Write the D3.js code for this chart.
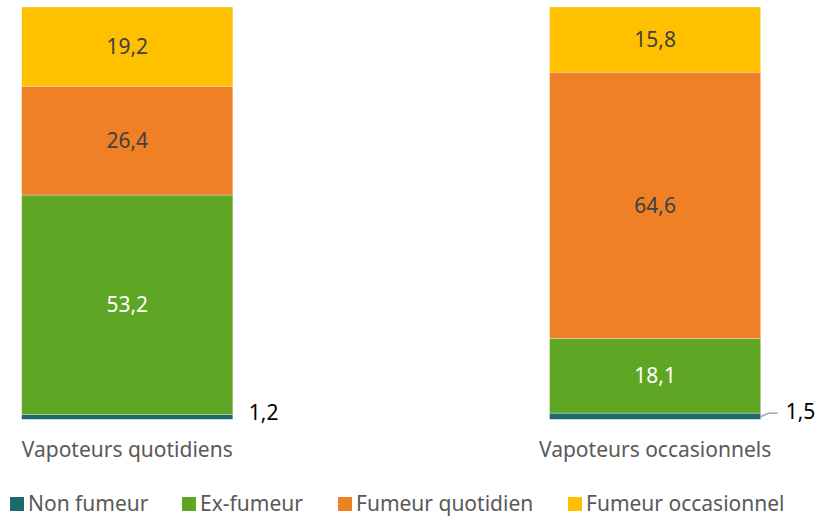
<!DOCTYPE html>
<html><head><meta charset="utf-8">
<script src="https://cdn.jsdelivr.net/npm/d3@7"></script>
<style>body{margin:0;background:#fff}svg{display:block}text{font-family:"Noto Sans",sans-serif}</style>
</head><body><svg id="c" width="819" height="518"></svg>
<script>
const categories = ["Vapoteurs quotidiens", "Vapoteurs occasionnels"];
const seriesNames = ["Non fumeur", "Ex-fumeur", "Fumeur quotidien", "Fumeur occasionnel"];
const nonFumeur = [1.2, 1.5];
const exFumeur = [53.2, 18.1];
const fumeurQuotidien = [26.4, 64.6];
const fumeurOccasionnel = [19.2, 15.8];
const colors = ["#1B6B6E", "#5EA624", "#F08026", "#FFC000"];
const labelColors = ["#000", "#fff", "#404040", "#404040"];

const svg = d3.select("#c");
const seriesValues = [nonFumeur, exFumeur, fumeurQuotidien, fumeurOccasionnel];
const rows = categories.map((c, i) => {
  const r = {cat: c};
  seriesNames.forEach((s, j) => r[s] = seriesValues[j][i]);
  return r;
});
const stack = d3.stack().keys(seriesNames)(rows);

const x = d3.scaleBand().domain(categories).range([21.7, 760.7]).paddingInner(0.6).paddingOuter(0);
const y = d3.scaleLinear().domain([0, 100]).range([419.3, 7]);

const FS = 21;
const g = svg.append("g");
stack.forEach((layer, j) => {
  g.selectAll(null).data(layer).join("rect")
    .attr("x", d => x(d.data.cat))
    .attr("width", x.bandwidth())
    .attr("y", d => y(d[1]))
    .attr("height", d => y(d[0]) - y(d[1]))
    .attr("fill", colors[j])
    .attr("stroke", "#fff").attr("stroke-opacity", 0.5).attr("stroke-width", 0.6);
});

const fmt = v => String(v).replace(".", ",");
stack.forEach((layer, j) => {
  if (j === 0) return;
  g.selectAll(null).data(layer).join("text")
    .attr("x", d => x(d.data.cat) + x.bandwidth() / 2)
    .attr("y", d => (y(d[0]) + y(d[1])) / 2 + 7.5)
    .attr("text-anchor", "middle")
    .attr("font-size", FS)
    .attr("fill", labelColors[j])
    .text((d, i) => fmt(seriesValues[j][i]));
});
const nf = stack[0];
g.append("text")
  .attr("x", x(categories[0]) + x.bandwidth() + 16)
  .attr("y", (y(nf[0][0]) + y(nf[0][1])) / 2 + 3.2)
  .attr("font-size", FS).attr("fill", "#000")
  .text(fmt(nonFumeur[0]));
{
  const bx = x(categories[1]) + x.bandwidth();
  const my = (y(nf[1][0]) + y(nf[1][1])) / 2;
  g.append("path")
    .attr("d", `M${bx},${my + 0.5} L${bx + 7.5},${my - 3} L${bx + 17},${my - 3}`)
    .attr("fill", "none").attr("stroke", "#A6A6A6").attr("stroke-width", 1.5);
  g.append("text")
    .attr("x", bx + 25)
    .attr("y", my + 2.8)
    .attr("font-size", FS).attr("fill", "#000")
    .text(fmt(nonFumeur[1]));
}
g.selectAll(null).data(categories).join("text")
  .attr("x", d => x(d) + x.bandwidth() / 2)
  .attr("y", 456.7)
  .attr("text-anchor", "middle")
  .attr("font-size", FS)
  .attr("fill", "#595959")
  .text(d => d);

const legendX = [10, 182, 338, 568];
const lg = svg.append("g");
seriesNames.forEach((s, j) => {
  lg.append("rect").attr("x", legendX[j]).attr("y", 497).attr("width", 14).attr("height", 14).attr("fill", colors[j]);
  lg.append("text").attr("x", legendX[j] + 18).attr("y", 510.7).attr("font-size", FS).attr("fill", "#595959").text(s);
});
</script></body></html>
